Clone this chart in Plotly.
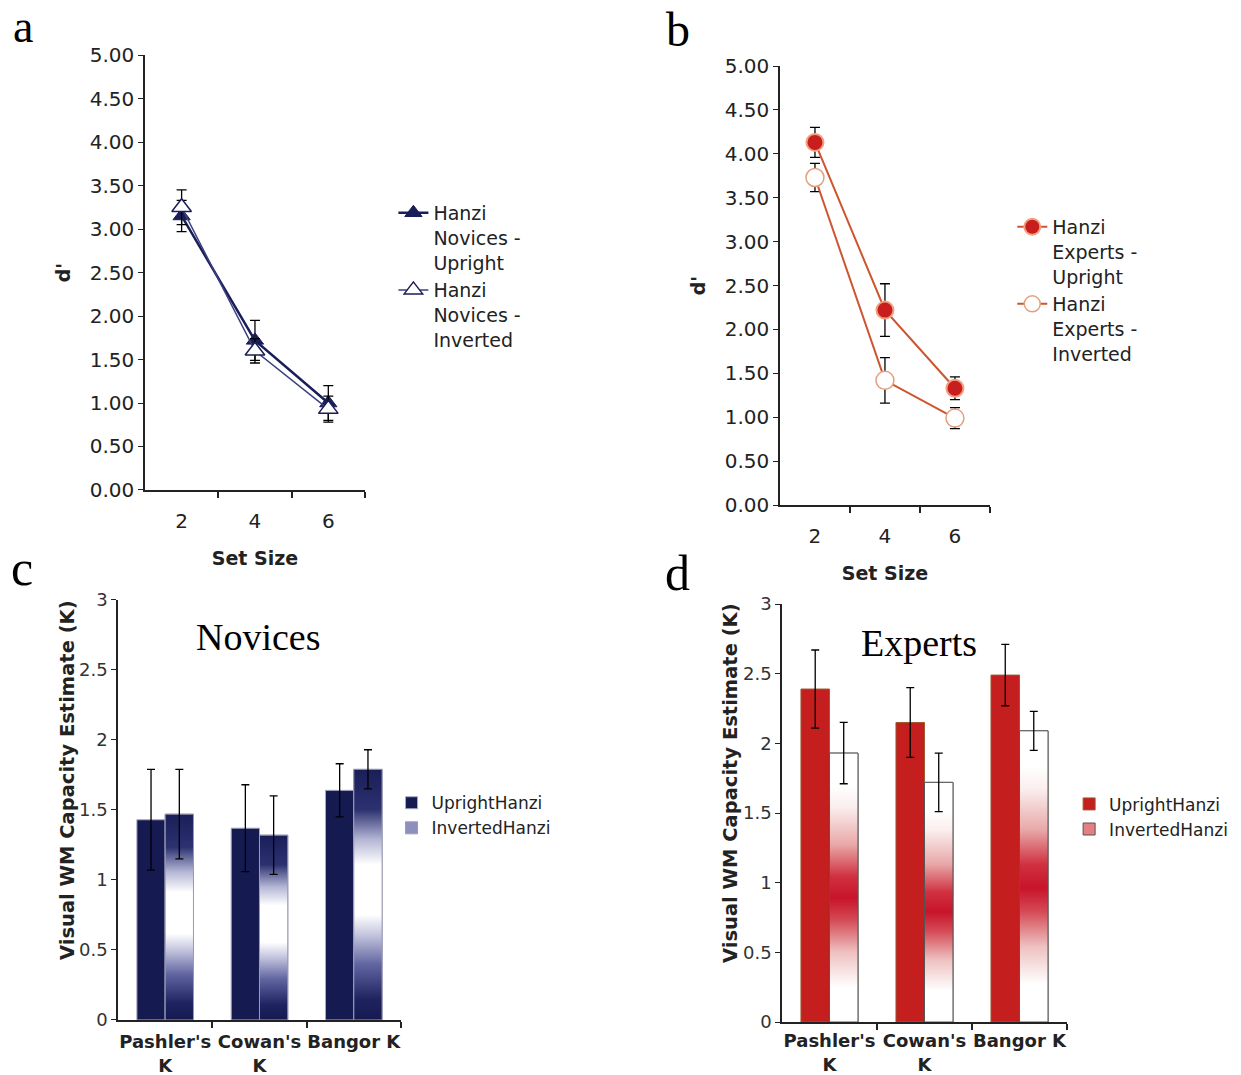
import plotly.graph_objects as go

# ---------------- data ----------------
set_sizes = [2, 4, 6]
nov_upright_d = [3.15, 1.72, 1.00]
nov_upright_err = [0.18, 0.23, 0.20]
nov_inverted_d = [3.25, 1.60, 0.93]
nov_inverted_err = [0.20, 0.14, 0.15]

exp_upright_d = [4.13, 2.22, 1.33]
exp_upright_err = [0.17, 0.30, 0.13]
exp_inverted_d = [3.73, 1.42, 0.99]
exp_inverted_err = [0.16, 0.26, 0.12]

k_methods = ["Pashler's<br>K", "Cowan's<br>K", "Bangor K"]
nov_upright_k = [1.43, 1.37, 1.64]
nov_upright_k_err = [0.36, 0.31, 0.19]
nov_inverted_k = [1.47, 1.32, 1.79]
nov_inverted_k_err = [0.32, 0.28, 0.14]

exp_upright_k = [2.39, 2.15, 2.49]
exp_upright_k_err = [0.28, 0.25, 0.22]
exp_inverted_k = [1.93, 1.72, 2.09]
exp_inverted_k_err = [0.22, 0.21, 0.14]

# ---------------- style ----------------
FONT = "DejaVu Sans"
SERIF = "Liberation Serif"
NAVY = "#1a1e58"
NAVY_LIGHT = "#3b4080"
RED = "#c81e1e"
ORANGE = "#cd5530"
AX = "#222222"
BW = 0.3  # bar width in category units

fig = go.Figure()

# ---------- panel a ----------
fig.add_trace(go.Scatter(
    x=set_sizes, y=nov_upright_d, mode="lines+markers",
    name="Hanzi<br>Novices -<br>Upright",
    line=dict(color=NAVY, width=2.5),
    marker=dict(symbol="triangle-up", size=15, color=NAVY, line=dict(color=NAVY, width=1)),
    error_y=dict(type="data", array=nov_upright_err, color="black", thickness=1.3, width=5),
    xaxis="x", yaxis="y", legend="legend"))
fig.add_trace(go.Scatter(
    x=set_sizes, y=nov_inverted_d, mode="lines+markers",
    name="Hanzi<br>Novices -<br>Inverted",
    line=dict(color=NAVY_LIGHT, width=1.5),
    marker=dict(symbol="triangle-up", size=17, color="white", line=dict(color=NAVY, width=1.5)),
    error_y=dict(type="data", array=nov_inverted_err, color="black", thickness=1.3, width=5),
    xaxis="x", yaxis="y", legend="legend"))

# ---------- panel b ----------
fig.add_trace(go.Scatter(
    x=set_sizes, y=exp_upright_d, mode="lines+markers",
    name="Hanzi<br>Experts -<br>Upright",
    line=dict(color=ORANGE, width=2),
    marker=dict(symbol="circle", size=17, color=RED, line=dict(color="#f2a080", width=2)),
    error_y=dict(type="data", array=exp_upright_err, color="black", thickness=1.3, width=5),
    xaxis="x2", yaxis="y2", legend="legend2"))
fig.add_trace(go.Scatter(
    x=set_sizes, y=exp_inverted_d, mode="lines+markers",
    name="Hanzi<br>Experts -<br>Inverted",
    line=dict(color=ORANGE, width=2),
    marker=dict(symbol="circle", size=18, color="white", line=dict(color="#e3a080", width=1.5)),
    error_y=dict(type="data", array=exp_inverted_err, color="black", thickness=1.3, width=5),
    xaxis="x2", yaxis="y2", legend="legend2"))

# ---------- bar panels ----------
idx = list(range(len(k_methods)))

nov_scale = [[0, "#161a50"], [0.08, "#1e2360"], [0.22, "#6064a0"], [0.34, "#c4c5de"],
             [0.42, "#ffffff"], [0.62, "#ffffff"], [0.72, "#b4b6d4"], [0.84, "#2c3170"],
             [1, "#1a1e58"]]
exp_scale = [[0, "#ffffff"], [0.13, "#ffffff"], [0.26, "#eec0c0"], [0.38, "#d44a55"],
             [0.46, "#c8142a"], [0.54, "#d03040"], [0.66, "#e8a8a8"], [0.8, "#fbeeee"],
             [0.88, "#ffffff"], [1, "#ffffff"]]


def bar_panel(xa, ya, leg, up_vals, up_err, inv_vals, inv_err, up_fill, up_line,
              inv_legend_color, inv_line, scale):
    fig.add_trace(go.Bar(
        x=idx, y=up_vals, offset=-BW, width=BW, name="UprightHanzi",
        marker=dict(color=up_fill, line=dict(color=up_line, width=1)),
        error_y=dict(type="data", array=up_err, color="black", thickness=1.3, width=4),
        xaxis=xa, yaxis=ya, legend=leg))
    fig.add_trace(go.Bar(
        x=idx, y=inv_vals, offset=0, width=BW, name="InvertedHanzi",
        marker=dict(color=inv_legend_color, line=dict(color=inv_line, width=1)),
        xaxis=xa, yaxis=ya, legend=leg))
    # gradient fill of the inverted bars
    for i, v in zip(idx, inv_vals):
        fig.add_trace(go.Scatter(
            x=[i, i + BW, i + BW, i, i], y=[0, 0, v, v, 0],
            mode="lines", fill="toself",
            fillgradient=dict(type="vertical", colorscale=scale, start=0, stop=v),
            line=dict(color=inv_line, width=1),
            showlegend=False, hoverinfo="skip", xaxis=xa, yaxis=ya))
    fig.add_trace(go.Scatter(
        x=[i + BW / 2 for i in idx], y=inv_vals, mode="markers",
        marker=dict(size=1, color="rgba(0,0,0,0)"),
        error_y=dict(type="data", array=inv_err, color="black", thickness=1.3, width=4),
        showlegend=False, hoverinfo="skip", xaxis=xa, yaxis=ya))


bar_panel("x3", "y3", "legend3", nov_upright_k, nov_upright_k_err, nov_inverted_k,
          nov_inverted_k_err, "#151a50", "#a8a8c0", "#8d90bd", "#9a9ab4", nov_scale)
bar_panel("x4", "y4", "legend4", exp_upright_k, exp_upright_k_err, exp_inverted_k,
          exp_inverted_k_err, "#c41e1e", "#9a5a30", "#e58080", "#555555", exp_scale)

# ---------------- axes ----------------
def line_x(domain, anchor):
    return dict(domain=domain, anchor=anchor, range=[1, 7], tickvals=set_sizes,
                ticks="", showline=True, linecolor=AX, linewidth=1.5,
                showgrid=False, zeroline=False, automargin=False,
                minor=dict(tickvals=[3, 5, 7], ticks="outside", ticklen=6,
                           tickcolor=AX, tickwidth=2),
                tickfont=dict(family=FONT, size=20, color=AX), ticklabelstandoff=12,
                title=dict(text="<b>Set Size</b>", font=dict(family=FONT, size=19, color=AX),
                           standoff=20))


def line_y(domain, anchor):
    return dict(domain=domain, anchor=anchor, range=[0, 5], dtick=0.5, tickformat=".2f",
                ticks="outside", ticklen=5, tickcolor=AX, showline=True, linecolor=AX,
                linewidth=1.5, showgrid=False, zeroline=False, automargin=False,
                tickfont=dict(family=FONT, size=20, color=AX),
                title=dict(text="<b>d'</b>", font=dict(family=FONT, size=19, color=AX),
                           standoff=14))


def bar_x(domain, anchor, standoff):
    return dict(domain=domain, anchor=anchor, range=[-0.5, 2.5], tickvals=idx,
                ticktext=["<b>%s</b>" % t for t in k_methods], ticks="",
                showline=True, linecolor=AX, linewidth=1.5, showgrid=False, zeroline=False,
                automargin=False,
                minor=dict(tickvals=[0.5, 1.5, 2.5], ticks="outside", ticklen=6,
                           tickcolor=AX, tickwidth=1.5),
                tickfont=dict(family=FONT, size=18, color=AX), ticklabelstandoff=standoff)


def bar_y(domain, anchor):
    return dict(domain=domain, anchor=anchor, range=[0, 3], dtick=0.5,
                ticks="outside", ticklen=5, tickcolor=AX, showline=True, linecolor=AX,
                linewidth=1.5, showgrid=False, zeroline=False, automargin=False,
                tickfont=dict(family=FONT, size=18, color="#333333"))


legend_common = dict(xanchor="left", yanchor="top", bgcolor="rgba(0,0,0,0)",
                     tracegroupgap=0, valign="top")


def letter(t, x, y, size=50):
    return dict(text=t, x=x, y=y, xref="paper", yref="paper", showarrow=False,
                xanchor="center", yanchor="middle",
                font=dict(family=SERIF, size=size, color="black"))


def ytitle(x, y):
    return dict(text="<b>Visual WM Capacity Estimate (K)</b>", x=x, y=y,
                xref="paper", yref="paper", showarrow=False, textangle=-90,
                xanchor="center", yanchor="middle",
                font=dict(family=FONT, size=19.5, color=AX))


fig.update_layout(
    width=1241, height=1075, margin=dict(l=0, r=0, t=0, b=0, pad=0, autoexpand=False),
    paper_bgcolor="white", plot_bgcolor="white", barmode="overlay",
    xaxis=line_x([0.1168, 0.2941], "y"),
    yaxis=line_y([0.5442, 0.9488], "x"),
    xaxis2=line_x([0.6285, 0.7977], "y2"),
    yaxis2=line_y([0.5302, 0.9386], "x2"),
    xaxis3=bar_x([0.0951, 0.3231], "y3", 5),
    yaxis3=bar_y([0.0512, 0.4419], "x3"),
    xaxis4=bar_x([0.6301, 0.8598], "y4", 2),
    yaxis4=bar_y([0.0493, 0.4381], "x4"),
    legend=dict(x=0.317, y=0.8196, font=dict(family=FONT, size=19, color=AX), **legend_common),
    legend2=dict(x=0.8157, y=0.8066, font=dict(family=FONT, size=19, color=AX), **legend_common),
    legend3=dict(x=0.3155, y=0.2696, font=dict(family=FONT, size=17, color=AX), **legend_common),
    legend4=dict(x=0.8615, y=0.2685, font=dict(family=FONT, size=17, color=AX), **legend_common),
    annotations=[
        letter("a", 23 / 1241, 1 - 26 / 1075, 46),
        letter("b", 678 / 1241, 1 - 29 / 1075, 48),
        letter("c", 22 / 1241, 1 - 568 / 1075),
        letter("d", 677 / 1241, 1 - 573 / 1075),
        ytitle(67 / 1241, 1 - 780 / 1075),
        ytitle(730 / 1241, 1 - 783 / 1075),
        dict(text="Novices", x=258 / 1241, y=1 - 637 / 1075, xref="paper", yref="paper",
             showarrow=False, xanchor="center", yanchor="middle",
             font=dict(family=SERIF, size=38, color="black")),
        dict(text="Experts", x=919 / 1241, y=1 - 643 / 1075, xref="paper", yref="paper",
             showarrow=False, xanchor="center", yanchor="middle",
             font=dict(family=SERIF, size=38, color="black")),
    ],
)

fig.write_html("out.html")
